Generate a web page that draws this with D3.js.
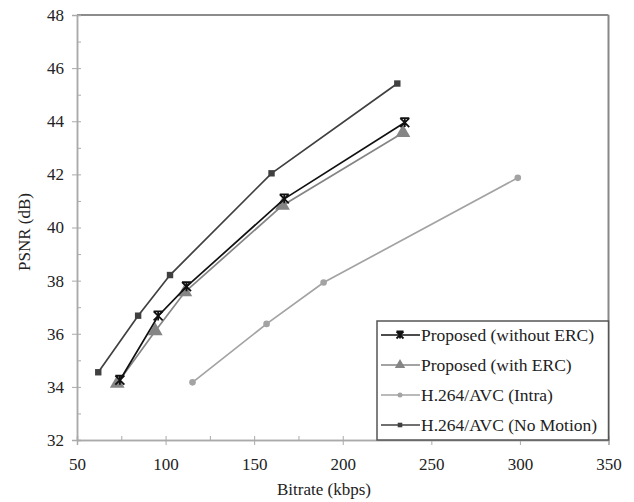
<!DOCTYPE html>
<html>
<head>
<meta charset="utf-8">
<script src="https://cdn.jsdelivr.net/npm/d3@7"></script>
<style>
  body { margin: 0; background: #fff; }
</style>
</head>
<body>
<script>
// series
const seriesNames = ["Proposed (without ERC)", "Proposed (with ERC)", "H.264/AVC (Intra)", "H.264/AVC (No Motion)"];
const bitrateNoERC = [74.2, 95.8, 111.8, 167, 235];
const psnrNoERC    = [34.25, 36.67, 37.77, 41.08, 43.95];
const bitrateERC   = [72.7, 94.2, 110.9, 166, 234];
const psnrERC      = [34.13, 36.1, 37.57, 40.83, 43.57];
const bitrateIntra = [115.2, 157, 189.2, 298.8];
const psnrIntra    = [34.17, 36.37, 37.93, 41.87];
const bitrateNoMotion = [62, 84.5, 102.5, 159.8, 230.8];
const psnrNoMotion    = [34.55, 36.68, 38.21, 42.04, 45.42];
const xTicks = [50, 100, 150, 200, 250, 300, 350];
const yTicks = [32, 34, 36, 38, 40, 42, 44, 46, 48];

const FONT = "'Liberation Serif', 'DejaVu Serif', serif";
const width = 634, height = 502;
const x = d3.scaleLinear().domain([50, 350]).range([77, 608.5]);
const y = d3.scaleLinear().domain([32, 48]).range([440, 15]);

const svg = d3.select("body").append("svg")
    .attr("width", width)
    .attr("height", height);

// frame top and right
svg.append("line").attr("x1", x(50)).attr("x2", x(350)).attr("y1", y(48)).attr("y2", y(48))
    .attr("stroke", "#666").attr("stroke-width", 1.5);
svg.append("line").attr("x1", x(350)).attr("x2", x(350)).attr("y1", y(48)).attr("y2", y(32))
    .attr("stroke", "#888").attr("stroke-width", 2);

// minor ticks, inside
const xMinor = d3.range(50, 351, 25), yMinor = d3.range(32, 48.1, 1);
svg.append("g").attr("transform", "translate(0," + y(32) + ")")
    .call(d3.axisBottom(x).tickValues(xMinor).tickSize(-4).tickFormat(""));
svg.append("g").attr("transform", "translate(" + x(50) + ",0)")
    .call(d3.axisLeft(y).tickValues(yMinor).tickSize(-4).tickFormat(""));

// major axes
const xAxis = svg.append("g").attr("transform", "translate(0," + y(32) + ")")
    .call(d3.axisBottom(x).tickValues(xTicks).tickSize(5).tickPadding(10));
const yAxis = svg.append("g").attr("transform", "translate(" + x(50) + ",0)")
    .call(d3.axisLeft(y).tickValues(yTicks).tickSize(5).tickPadding(8));

svg.selectAll(".domain").attr("stroke", "#aaa").attr("stroke-width", 1.5);
svg.selectAll(".tick line").attr("stroke", "#aaa");
svg.selectAll(".tick text").attr("font-size", 17).attr("fill", "#222");
xAxis.selectAll(".tick text").attr("dy", "0.9em");

// axis titles
svg.append("text").attr("x", 324).attr("y", 495).attr("text-anchor", "middle")
    .attr("font-size", 17).attr("fill", "#222").text("Bitrate (kbps)");
svg.append("text").attr("transform", "translate(30,232) rotate(-90)").attr("text-anchor", "middle")
    .attr("font-size", 17).attr("fill", "#222").text("PSNR (dB)");

// marker drawers
function star(g, s) {
  g.append("path")
    .attr("d", "M" + (-s) + "," + (-s) + "L" + s + "," + s + "M" + s + "," + (-s) + "L" + (-s) + "," + s +
               "M" + (-s) + "," + (-s) + "L" + s + "," + (-s) + "M0," + (-s) + "L0," + s)
    .attr("stroke", "#111").attr("stroke-width", 1.8).attr("fill", "none");
}
function tri(color) {
  return function (g, s) {
    g.append("path").attr("d", d3.symbol(d3.symbolTriangle, s * s * 1.3)())
      .attr("fill", color);
  };
}
function dot(color) {
  return function (g, s) {
    g.append("circle").attr("r", s).attr("fill", color);
  };
}
function sq(color) {
  return function (g, s) {
    g.append("rect").attr("x", -s).attr("y", -s).attr("width", 2 * s).attr("height", 2 * s).attr("fill", color);
  };
}

const series = [
  {name: seriesNames[2], xs: bitrateIntra, ys: psnrIntra, color: "#a3a3a3", marker: dot("#a3a3a3"), ms: 3.3, ls: 2.5},
  {name: seriesNames[1], xs: bitrateERC, ys: psnrERC, color: "#858585", marker: tri("#858585"), ms: 8.5, ls: 6},
  {name: seriesNames[3], xs: bitrateNoMotion, ys: psnrNoMotion, color: "#404040", marker: sq("#404040"), ms: 3.2, ls: 2.3},
  {name: seriesNames[0], xs: bitrateNoERC, ys: psnrNoERC, color: "#111", marker: star, ms: 4.5, ls: 3.5}
];

const line = d3.line().x(d => x(d[0])).y(d => y(d[1]));

series.forEach(function (s) {
  const pts = s.xs.map((v, i) => [v, s.ys[i]]);
  svg.append("path").datum(pts).attr("d", line)
    .attr("fill", "none").attr("stroke", s.color).attr("stroke-width", 1.7);
  svg.selectAll(null).data(pts).enter().append("g")
    .attr("transform", d => "translate(" + x(d[0]) + "," + y(d[1]) + ")")
    .each(function () { s.marker(d3.select(this), s.ms); });
});

// legend
svg.append("rect").attr("x", 377).attr("y", 321).attr("width", x(350) - 377).attr("height", y(32) - 321)
    .attr("fill", "#fff").attr("stroke", "#555").attr("stroke-width", 1.5);

const legendOrder = [series[3], series[1], series[0], series[2]];
const legend = svg.selectAll(".legend").data(legendOrder).enter().append("g")
    .attr("class", "legend")
    .attr("transform", (d, i) => "translate(0," + (335 + i * 30) + ")");
legend.append("line").attr("x1", 381).attr("x2", 420).attr("y1", 0).attr("y2", 0)
    .attr("stroke", d => d.color).attr("stroke-width", 1.7);
legend.append("g").attr("transform", "translate(400,0)")
    .each(function (d) { d.marker(d3.select(this), d.ls); });
legend.append("text").attr("x", 421).attr("y", 6).attr("font-size", 17.5).attr("fill", "#222").text(d => d.name);

svg.selectAll("text").style("font-family", FONT);
</script>
</body>
</html>
